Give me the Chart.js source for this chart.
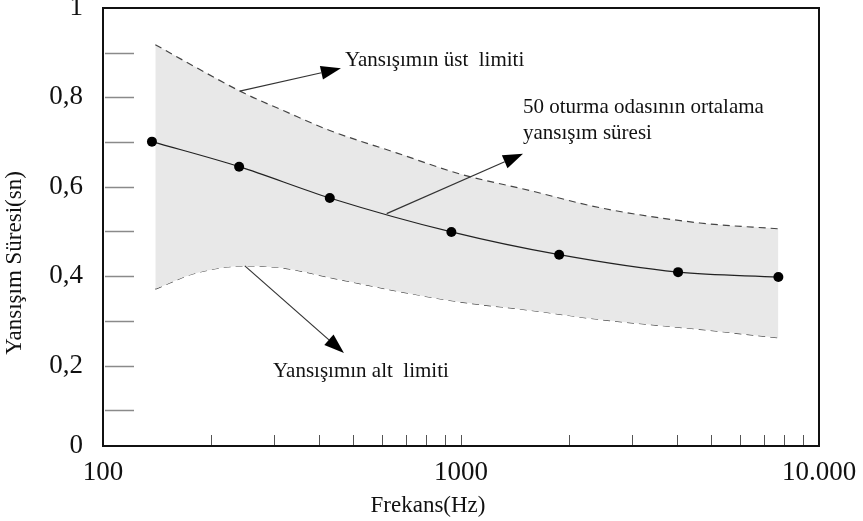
<!DOCTYPE html>
<html>
<head>
<meta charset="utf-8">
<script src="https://cdn.jsdelivr.net/npm/chart.js@4.4.1/dist/chart.umd.min.js"></script>
<style>
  html, body { margin: 0; padding: 0; background: #fff; }
  #wrap { width: 863px; height: 521px; }
</style>
</head>
<body>
<div id="wrap"><canvas id="chart"></canvas></div>
<script>
/* ── DATA ─────────────────────────────────────────────── */
const meanFreqs  = [137, 240, 430, 940, 1880, 4040, 7700];
const meanValues = [0.701, 0.645, 0.575, 0.499, 0.448, 0.409, 0.398];

const bandFreqs  = [140, 180, 250, 320, 430, 660, 1000, 1550, 2450, 4650, 7700];
const upperLimit = [0.918, 0.869, 0.808, 0.770, 0.726, 0.676, 0.628, 0.592, 0.553, 0.519, 0.506];
const lowerLimit = [0.371, 0.406, 0.423, 0.418, 0.397, 0.367, 0.342, 0.324, 0.303, 0.281, 0.262];

const xTicks = [100, 200, 300, 400, 500, 600, 700, 800, 900,
                1000, 2000, 3000, 4000, 5000, 6000, 7000, 8000, 9000, 10000];
const xLabels = { 100: '100', 1000: '1000', 10000: '10.000' };
const yTicks = [0.02, 0.1, 0.2, 0.3, 0.4, 0.5, 0.6, 0.7, 0.8, 0.9, 1.0];
const yLabels = ['0', '', '0,2', '', '0,4', '', '0,6', '', '0,8', '', '1'];

/* annotations, in data units (Hz, sn) */
const arrows = [
  { from: [241, 0.814], to: [462, 0.865] },
  { from: [620, 0.540], to: [1490, 0.674] },
  { from: [249, 0.423], to: [471, 0.228] }
];
const notes = [
  { text: 'Yansışımın üst  limiti',     at: [474, 0.871] },
  { text: '50 oturma odasının ortalama', at: [1490, 0.764] },
  { text: 'yansışım süresi',             at: [1490, 0.708] },
  { text: 'Yansışımın alt  limiti',      at: [298.5, 0.174] }
];

const pts = (xs, ys) => xs.map((x, i) => ({ x, y: ys[i] }));
const SERIF = '"Liberation Serif", "DejaVu Serif", serif';

/* ── DECORATION PLUGIN ────────────────────────────────── */
function drawArrow(ctx, x1, y1, x2, y2) {
  const a = Math.atan2(y2 - y1, x2 - x1), L = 20, W = 7;
  const c = Math.cos(a), s = Math.sin(a);
  const bx = x2 - L * c, by = y2 - L * s;
  ctx.beginPath(); ctx.moveTo(x1, y1); ctx.lineTo(bx, by); ctx.stroke();
  ctx.beginPath();
  ctx.moveTo(x2, y2);
  ctx.lineTo(bx + W * s, by - W * c);
  ctx.lineTo(bx - W * s, by + W * c);
  ctx.closePath(); ctx.fill();
}

const decor = {
  id: 'decor',
  afterDraw(chart) {
    const { ctx, chartArea: a, scales: { x, y } } = chart;
    ctx.save();

    // inner y tick marks
    ctx.strokeStyle = '#8a8a8a'; ctx.lineWidth = 1.5;
    yTicks.slice(1, -1).forEach(v => {
      const py = Math.round(y.getPixelForValue(v)) + 0.5;
      ctx.beginPath(); ctx.moveTo(a.left + 2, py); ctx.lineTo(a.left + 31, py); ctx.stroke();
    });

    // inner x tick marks
    ctx.strokeStyle = '#555'; ctx.lineWidth = 1;
    xTicks.slice(1, -1).forEach(v => {
      const px = Math.round(x.getPixelForValue(v)) + 0.5;
      ctx.beginPath(); ctx.moveTo(px, a.bottom); ctx.lineTo(px, a.bottom - 11); ctx.stroke();
    });

    // frame
    ctx.strokeStyle = '#111'; ctx.lineWidth = 2;
    ctx.strokeRect(a.left, a.top, a.right - a.left, a.bottom - a.top);

    // arrows
    ctx.strokeStyle = '#333'; ctx.fillStyle = '#000'; ctx.lineWidth = 1.2;
    arrows.forEach(ar => {
      drawArrow(ctx,
        x.getPixelForValue(ar.from[0]), y.getPixelForValue(ar.from[1]),
        x.getPixelForValue(ar.to[0]),   y.getPixelForValue(ar.to[1]));
    });

    // notes
    ctx.fillStyle = '#111';
    ctx.font = '21px ' + SERIF;
    ctx.textAlign = 'left'; ctx.textBaseline = 'alphabetic';
    notes.forEach(n => {
      ctx.fillText(n.text, x.getPixelForValue(n.at[0]), y.getPixelForValue(n.at[1]));
    });

    // axis titles
    ctx.font = '23px ' + SERIF;
    ctx.textAlign = 'center';
    ctx.fillText('Frekans(Hz)', 428, 512);
    ctx.translate(21, 263);
    ctx.rotate(-Math.PI / 2);
    ctx.fillText('Yansışım Süresi(sn)', 0, 0);

    ctx.restore();
  }
};

/* ── CHART ────────────────────────────────────────────── */
new Chart(document.getElementById('chart'), {
  type: 'line',
  data: {
    datasets: [
      {
        label: 'Ortalama',
        data: pts(meanFreqs, meanValues),
        borderColor: '#222', borderWidth: 1.2,
        pointRadius: 5, pointBackgroundColor: '#000', pointBorderWidth: 0,
        cubicInterpolationMode: 'monotone', fill: false
      },
      {
        label: 'Üst limit',
        data: pts(bandFreqs, upperLimit),
        borderColor: '#444', borderWidth: 1.2, borderDash: [7, 5],
        backgroundColor: '#e8e8e8', pointRadius: 0,
        cubicInterpolationMode: 'monotone', fill: '+1'
      },
      {
        label: 'Alt limit',
        data: pts(bandFreqs, lowerLimit),
        borderColor: '#444', borderWidth: 1.2, borderDash: [7, 5],
        pointRadius: 0, cubicInterpolationMode: 'monotone', fill: false
      }
    ]
  },
  options: {
    responsive: true, maintainAspectRatio: false, animation: false,
    layout: { padding: { top: 8, right: 44, bottom: 0, left: 0 } },
    plugins: { legend: { display: false }, tooltip: { enabled: false } },
    scales: {
      x: {
        type: 'logarithmic', min: 100, max: 10000,
        grid: { display: false }, border: { display: false },
        afterBuildTicks: s => { s.ticks = xTicks.map(v => ({ value: v })); },
        afterFit: s => { s.height = 75; s.paddingLeft = 0; s.paddingRight = 0; },
        ticks: {
          autoSkip: false, maxRotation: 0, padding: 3, color: '#111',
          font: { family: SERIF, size: 27 },
          callback: v => xLabels[v] || ''
        }
      },
      y: {
        min: 0.02, max: 1.0,
        grid: { display: false }, border: { display: false },
        afterBuildTicks: s => { s.ticks = yTicks.map(v => ({ value: v })); },
        afterFit: s => { s.width = 103; s.paddingTop = 0; s.paddingBottom = 0; },
        ticks: {
          autoSkip: false, padding: 12, color: '#111',
          font: { family: SERIF, size: 27 },
          callback: (v, i) => yLabels[i]
        }
      }
    }
  },
  plugins: [decor]
});
</script>
</body>
</html>
